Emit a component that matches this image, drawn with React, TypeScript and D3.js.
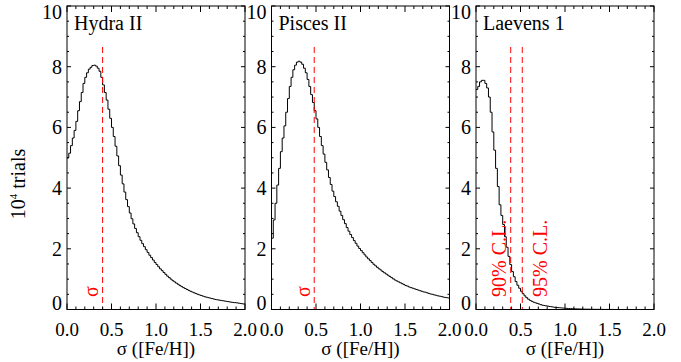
import { useRef, useEffect } from 'react';
import * as d3 from 'd3';

// histogram bin width in sigma([Fe/H])
const BIN = 0.02;

const panelNames = ['Hydra II', 'Pisces II', 'Laevens 1'];

// counts per bin, units of 10^4 trials, bins start at 0.00, 0.02, ... 1.98
const hydraCounts = [
  5.0, 5.15, 5.4, 5.65, 5.9, 6.2, 6.55, 6.85, 7.15, 7.45,
  7.65, 7.8, 7.92, 7.98, 8.04, 8.05, 8.02, 7.95, 7.85, 7.65,
  7.4, 7.15, 6.9, 6.6, 6.3, 6.0, 5.7, 5.38, 5.06, 4.74,
  4.43, 4.14, 3.87, 3.62, 3.39, 3.18, 2.99, 2.82, 2.67, 2.53,
  2.4, 2.28, 2.17, 2.07, 1.97, 1.88, 1.79, 1.71, 1.63, 1.55,
  1.48, 1.41, 1.34, 1.28, 1.22, 1.16, 1.1, 1.05, 1.0, 0.95,
  0.91, 0.87, 0.83, 0.79, 0.755, 0.72, 0.69, 0.66, 0.63, 0.6,
  0.575, 0.55, 0.525, 0.5, 0.48, 0.46, 0.44, 0.42, 0.405, 0.39,
  0.375, 0.36, 0.345, 0.33, 0.32, 0.31, 0.3, 0.29, 0.28, 0.27,
  0.26, 0.25, 0.24, 0.23, 0.225, 0.22, 0.21, 0.2, 0.19, 0.18,
];

const piscesCounts = [
  2.35, 2.95, 3.5, 4.1, 4.65, 5.2, 5.65, 6.05, 6.5, 6.95,
  7.35, 7.65, 7.9, 8.05, 8.15, 8.18, 8.15, 8.08, 7.95, 7.8,
  7.58, 7.35, 7.08, 6.82, 6.55, 6.28, 6.0, 5.7, 5.4, 5.12,
  4.85, 4.6, 4.35, 4.12, 3.9, 3.72, 3.55, 3.4, 3.24, 3.1,
  2.96, 2.83, 2.7, 2.58, 2.47, 2.37, 2.27, 2.18, 2.09, 2.01,
  1.94, 1.87, 1.8, 1.73, 1.67, 1.61, 1.55, 1.49, 1.44, 1.39,
  1.34, 1.3, 1.25, 1.21, 1.17, 1.13, 1.09, 1.05, 1.01, 0.97,
  0.94, 0.91, 0.88, 0.85, 0.82, 0.79, 0.77, 0.74, 0.72, 0.7,
  0.68, 0.66, 0.64, 0.62, 0.6, 0.58, 0.57, 0.55, 0.53, 0.51,
  0.5, 0.48, 0.47, 0.45, 0.44, 0.43, 0.41, 0.4, 0.39, 0.38,
];

const laevensCounts = [
  7.25, 7.35, 7.5, 7.55, 7.55, 7.45, 7.3, 7.0, 6.5, 5.85,
  5.25, 4.65, 4.05, 3.45, 3.1, 2.8, 2.4, 2.05, 1.75, 1.48,
  1.25, 1.08, 0.92, 0.8, 0.7, 0.6, 0.52, 0.45, 0.39, 0.34,
  0.3, 0.27, 0.24, 0.22, 0.2, 0.18, 0.16, 0.14, 0.13, 0.12,
  0.11, 0.1, 0.09, 0.08, 0.07, 0.065, 0.06, 0.055, 0.05, 0.045,
  0.04, 0.035, 0.03, 0.028, 0.025, 0.022, 0.02, 0.018, 0.016, 0.014,
  0.012, 0.011, 0.01, 0.009, 0.008, 0.007, 0.006, 0.005, 0.005, 0.004,
  0.004, 0.003, 0.003, 0.003, 0.002, 0.002, 0.002, 0.002, 0.001, 0.001,
  0.001, 0.001, 0.001, 0.001, 0.001, 0, 0, 0, 0, 0,
  0, 0, 0, 0, 0, 0, 0, 0, 0, 0,
];

// dashed red markers (sigma value) and their labels
const hydraMarks = [{ at: 0.4, label: 'σ', side: 'left' }];
const piscesMarks = [{ at: 0.48, label: 'σ', side: 'left' }];
const laevensMarks = [
  { at: 0.39, label: '90% C.L.', side: 'left' },
  { at: 0.52, label: '95% C.L.', side: 'right' },
];
const markTop = 8.65;

const xTicks = [0, 0.5, 1, 1.5, 2];
const xTickLabels = ['0.0', '0.5', '1.0', '1.5', '2.0'];
const yTicks = [0, 2, 4, 6, 8, 10];

const panelCounts = [hydraCounts, piscesCounts, laevensCounts];
const panelMarks = [hydraMarks, piscesMarks, laevensMarks];

const FONT = 'Liberation Serif, Times New Roman, Times, DejaVu Serif, serif';
const W = 681;
const H = 362;

export default function App() {
  const svgRef = useRef<SVGSVGElement>(null);

  useEffect(() => {
    const svg = d3.select(svgRef.current);
    svg.selectAll('*').remove();

    const panelW = 178;
    const top = 6;
    const bottom = 309.5;
    const lefts = [67, 271.5, 476];

    const y = d3.scaleLinear().domain([0, 10]).range([bottom, top]);
    const minorX = d3.range(0, 2.0001, 0.1);
    const minorY = d3.range(0, 10.0001, 0.5);

    panelNames.forEach((name, p) => {
      const left = lefts[p];
      const right = left + panelW;
      const x = d3.scaleLinear().domain([0, 2]).range([left, right]);
      const g = svg.append('g').style('font-family', FONT);

      const clipId = `clip-${p}`;
      svg.append('clipPath').attr('id', clipId)
        .append('rect')
        .attr('x', left).attr('y', top)
        .attr('width', panelW).attr('height', bottom - top);

      // histogram
      const counts = panelCounts[p];
      const pts: [number, number][] = counts.map((c, i) => [i * BIN, c]);
      pts.push([counts.length * BIN, counts[counts.length - 1]]);
      const line = d3.line<[number, number]>()
        .x(d => x(d[0]))
        .y(d => y(d[1]))
        .curve(d3.curveStepAfter);
      g.append('path')
        .attr('d', line(pts))
        .attr('fill', 'none')
        .attr('stroke', '#000')
        .attr('stroke-width', 1)
        .attr('clip-path', `url(#${clipId})`);

      // dashed markers
      panelMarks[p].forEach(m => {
        const mx = x(m.at);
        g.append('line')
          .attr('x1', mx).attr('x2', mx)
          .attr('y1', y(markTop)).attr('y2', bottom)
          .attr('stroke', '#ff0000')
          .attr('stroke-width', 1)
          .attr('stroke-dasharray', '6,4');
        const lx = m.side === 'left' ? mx - 4.5 : mx + 25;
        g.append('text')
          .attr('transform', `translate(${lx},${297}) rotate(-90)`)
          .attr('font-size', 20)
          .attr('fill', '#ff0000')
          .text(m.label);
      });

      // frame
      g.append('rect')
        .attr('x', left).attr('y', top)
        .attr('width', panelW).attr('height', bottom - top)
        .attr('fill', 'none')
        .attr('stroke', '#000')
        .attr('stroke-width', 1);

      // x ticks, bottom and top
      const xt = minorX.map(v => ({ v, major: xTicks.some(t => Math.abs(t - v) < 1e-6) }));
      g.selectAll('line.xtb').data(xt).join('line')
        .attr('x1', d => x(d.v)).attr('x2', d => x(d.v))
        .attr('y1', bottom).attr('y2', d => bottom - (d.major ? 6 : 3))
        .attr('stroke', '#000');
      g.selectAll('line.xtt').data(xt).join('line')
        .attr('x1', d => x(d.v)).attr('x2', d => x(d.v))
        .attr('y1', top).attr('y2', d => top + (d.major ? 6 : 3))
        .attr('stroke', '#000');

      // y ticks, left and right
      const yt = minorY.map(v => ({ v, major: yTicks.some(t => Math.abs(t - v) < 1e-6) }));
      g.selectAll('line.ytl').data(yt).join('line')
        .attr('x1', left).attr('x2', d => left + (d.major ? 4 : 2))
        .attr('y1', d => y(d.v)).attr('y2', d => y(d.v))
        .attr('stroke', '#000');
      g.selectAll('line.ytr').data(yt).join('line')
        .attr('x1', right).attr('x2', d => right - (d.major ? 4 : 2))
        .attr('y1', d => y(d.v)).attr('y2', d => y(d.v))
        .attr('stroke', '#000');

      // tick labels
      g.selectAll('text.xl').data(xTicks).join('text')
        .attr('x', d => x(d))
        .attr('y', 336)
        .attr('text-anchor', 'middle')
        .attr('font-size', 19)
        .text((_d, i) => xTickLabels[i]);
      g.selectAll('text.yl').data(yTicks).join('text')
        .attr('x', left - 5)
        .attr('y', d => Math.max(top + 6, Math.min(bottom - 6.5, y(d))))
        .attr('dy', '0.35em')
        .attr('text-anchor', 'end')
        .attr('font-size', 20)
        .text(d => d);

      // panel title
      g.append('text')
        .attr('x', left + 7)
        .attr('y', 30)
        .attr('font-size', 20)
        .text(name);

      // x axis title
      g.append('text')
        .attr('x', (left + right) / 2)
        .attr('y', 355)
        .attr('text-anchor', 'middle')
        .attr('font-size', 19)
        .text('σ ([Fe/H])');
    });

    // y axis title
    const yt = svg.append('text')
      .attr('transform', 'translate(25,184) rotate(-90)')
      .attr('text-anchor', 'middle')
      .style('font-family', FONT)
      .attr('font-size', 20);
    yt.append('tspan').text('10');
    yt.append('tspan').attr('font-size', 11).attr('dy', -8).text('4');
    yt.append('tspan').attr('dy', 8).text(' trials');
  }, []);

  return (
    <svg
      ref={svgRef}
      width={W}
      height={H}
      style={{ position: 'absolute', left: 0, top: 0, background: '#fff' }}
    />
  );
}
